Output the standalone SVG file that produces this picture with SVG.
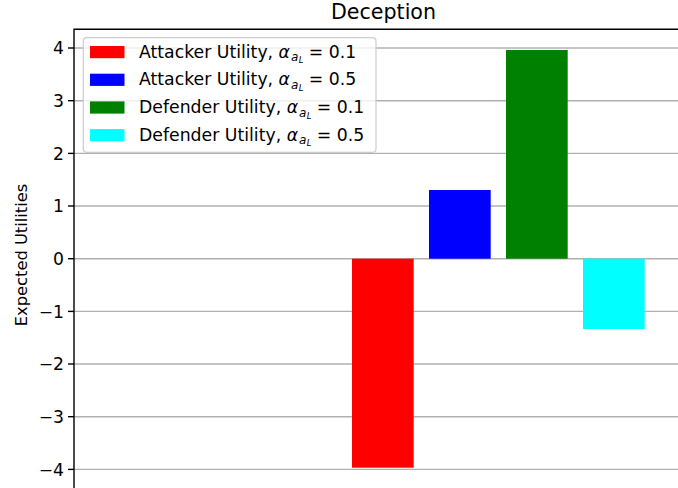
<svg xmlns="http://www.w3.org/2000/svg" width="678" height="488" viewBox="0 0 678 488">
  <style>
    text { font-family: "DejaVu Sans", "Liberation Sans", sans-serif; fill: #000; }
    .tick { font-size: 17.2px; text-anchor: end; }
    .grid line { stroke: #b0b0b0; stroke-width: 1.4; }
    .ticks line { stroke: #000; stroke-width: 1.4; }
    .spine { stroke: #000; stroke-width: 1.4; fill: none; stroke-linecap: square; }
    .leg { font-size: 17.3px; }
    .m { font-style: italic; }
  </style>
  <rect width="678" height="488" fill="#fff"/>

  <!-- horizontal grid -->
  <g id="grid" class="grid">
    <line x1="74" y1="48" x2="678" y2="48"/>
    <line x1="74" y1="100.7" x2="678" y2="100.7"/>
    <line x1="74" y1="153.4" x2="678" y2="153.4"/>
    <line x1="74" y1="206" x2="678" y2="206"/>
    <line x1="74" y1="258.7" x2="678" y2="258.7"/>
    <line x1="74" y1="311.4" x2="678" y2="311.4"/>
    <line x1="74" y1="364" x2="678" y2="364"/>
    <line x1="74" y1="416.7" x2="678" y2="416.7"/>
    <line x1="74" y1="469.4" x2="678" y2="469.4"/>
  </g>

  <!-- bars -->
  <g id="bars">
    <rect id="bar-attacker-01" x="352" y="258.7" width="61.7" height="209" fill="#ff0000"/>
    <rect id="bar-attacker-05" x="429" y="190" width="61.7" height="68.7" fill="#0000ff"/>
    <rect id="bar-defender-01" x="506" y="50" width="61.7" height="208.7" fill="#008000"/>
    <rect id="bar-defender-05" x="583" y="258.7" width="61.7" height="70.3" fill="#00ffff"/>
  </g>

  <!-- axes frame -->
  <g id="axes">
    <path class="spine" d="M74,488 V29.3 H678"/>
    <g class="ticks">
      <line x1="68" y1="48" x2="74" y2="48"/>
      <line x1="68" y1="100.7" x2="74" y2="100.7"/>
      <line x1="68" y1="153.4" x2="74" y2="153.4"/>
      <line x1="68" y1="206" x2="74" y2="206"/>
      <line x1="68" y1="258.7" x2="74" y2="258.7"/>
      <line x1="68" y1="311.4" x2="74" y2="311.4"/>
      <line x1="68" y1="364" x2="74" y2="364"/>
      <line x1="68" y1="416.7" x2="74" y2="416.7"/>
      <line x1="68" y1="469.4" x2="74" y2="469.4"/>
    </g>
    <g id="ticklabels">
      <text class="tick" x="64" y="54.2">4</text>
      <text class="tick" x="64" y="106.9">3</text>
      <text class="tick" x="64" y="159.6">2</text>
      <text class="tick" x="64" y="212.2">1</text>
      <text class="tick" x="64" y="264.9">0</text>
      <text class="tick" x="64" y="317.6">−1</text>
      <text class="tick" x="64" y="370.2">−2</text>
      <text class="tick" x="64" y="422.9">−3</text>
      <text class="tick" x="64" y="475.6">−4</text>
    </g>
    <text id="ylabel" transform="translate(26.7,255) rotate(-90)" text-anchor="middle" font-size="16.3">Expected Utilities</text>
    <text id="title" x="383.5" y="19.3" text-anchor="middle" font-size="20.6">Deception</text>
  </g>

  <!-- legend -->
  <g id="legend">
    <rect x="83.3" y="37.7" width="292.7" height="114.6" rx="3.5" fill="#fff" fill-opacity="0.8" stroke="#cccccc" stroke-width="1.2"/>
    <g id="legend-attacker-01">
      <rect x="90" y="46" width="34.5" height="12.2" fill="#ff0000"/>
      <text class="leg" x="139" y="57.7">Attacker Utility, <tspan class="m">α</tspan><tspan class="m" font-size="12" dx="1" dy="3.6">a</tspan><tspan class="m" font-size="8.4" dx="0.3" dy="1.8">L</tspan><tspan dy="-5.4"> = 0.1</tspan></text>
    </g>
    <g id="legend-attacker-05">
      <rect x="90" y="73.7" width="34.5" height="12.2" fill="#0000ff"/>
      <text class="leg" x="139" y="85.4">Attacker Utility, <tspan class="m">α</tspan><tspan class="m" font-size="12" dx="1" dy="3.6">a</tspan><tspan class="m" font-size="8.4" dx="0.3" dy="1.8">L</tspan><tspan dy="-5.4"> = 0.5</tspan></text>
    </g>
    <g id="legend-defender-01">
      <rect x="90" y="101.4" width="34.5" height="12.2" fill="#008000"/>
      <text class="leg" x="139" y="113.1">Defender Utility, <tspan class="m">α</tspan><tspan class="m" font-size="12" dx="1" dy="3.6">a</tspan><tspan class="m" font-size="8.4" dx="0.3" dy="1.8">L</tspan><tspan dy="-5.4"> = 0.1</tspan></text>
    </g>
    <g id="legend-defender-05">
      <rect x="90" y="129.1" width="34.5" height="12.2" fill="#00ffff"/>
      <text class="leg" x="139" y="140.8">Defender Utility, <tspan class="m">α</tspan><tspan class="m" font-size="12" dx="1" dy="3.6">a</tspan><tspan class="m" font-size="8.4" dx="0.3" dy="1.8">L</tspan><tspan dy="-5.4"> = 0.5</tspan></text>
    </g>
  </g>
</svg>
